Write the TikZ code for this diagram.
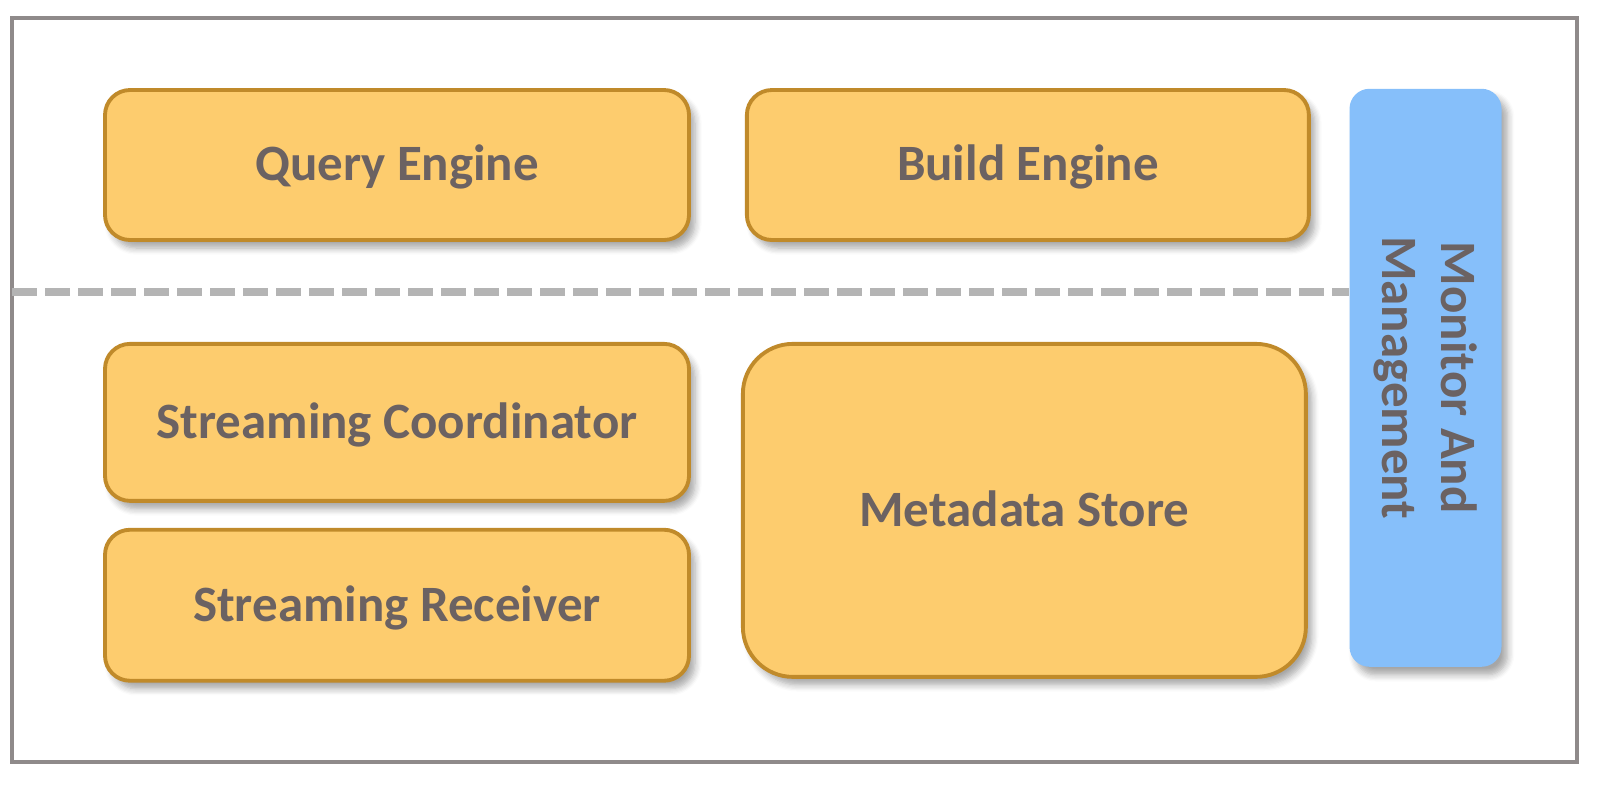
\documentclass[tikz,border=0pt]{standalone}
\usepackage{fontspec}
\setmainfont{Carlito}
\usetikzlibrary{positioning,shadows.blur}
\definecolor{boxfill}{RGB}{253,204,110}
\definecolor{boxline}{RGB}{192,138,42}
\definecolor{sidefill}{RGB}{134,191,250}
\definecolor{labeltext}{RGB}{107,98,98}
\definecolor{framegray}{RGB}{143,138,138}
\definecolor{dashgray}{RGB}{180,180,180}
\begin{document}
\begin{tikzpicture}[
  block/.style={rectangle, rounded corners=0.25cm, draw=boxline, line width=1.1pt, fill=boxfill,
    minimum width=5.84cm, minimum height=1.5cm, text=labeltext,
    text height=1.1em, text depth=0.2em,
    font=\fontsize{14.5}{17}\selectfont\bfseries,
    blur shadow={shadow xshift=0.06cm, shadow yshift=-0.08cm, shadow blur steps=6, shadow opacity=35}},
  side/.style={rectangle, rounded corners=0.2cm, fill=sidefill, minimum width=1.52cm, minimum height=5.78cm,
    blur shadow={shadow xshift=0.06cm, shadow yshift=-0.08cm, shadow blur steps=6, shadow opacity=35}},
  font=\small
]
\useasboundingbox (0,0) rectangle (16,7.84);
\draw[framegray, line width=0.9pt] (0.12,0.22) rectangle (15.77,7.66);

\node[block] (q_eng) at (3.97,6.19) {Query Engine};
\node[block, right=0.54cm of q_eng, minimum width=5.62cm] (b_eng) {Build Engine};
\node[block, below=1.0cm of q_eng, minimum height=1.57cm] (s_coord) {Streaming Coordinator};
\node[block, below=0.25cm of s_coord, minimum height=1.51cm] (s_recv) {Streaming Receiver};
\node[block, right=0.50cm of s_coord.north east, anchor=north west, rounded corners=0.5cm,
  minimum width=5.63cm, minimum height=3.33cm] (meta) {Metadata Store};
\node[side, right=0.38cm of b_eng.north east, anchor=north west] (monitor) {};
\node[rotate=-90, align=center, text=labeltext, font=\fontsize{14.5}{17}\selectfont\bfseries] (monitor_lbl)
  at (monitor.center) {Monitor And\\Management};

\coordinate (split) at (0.12,4.92);
\draw[dashgray, line width=2pt, dash pattern=on 0.25cm off 0.08cm] (split) -- (split -| monitor.west);
\end{tikzpicture}
\end{document}
